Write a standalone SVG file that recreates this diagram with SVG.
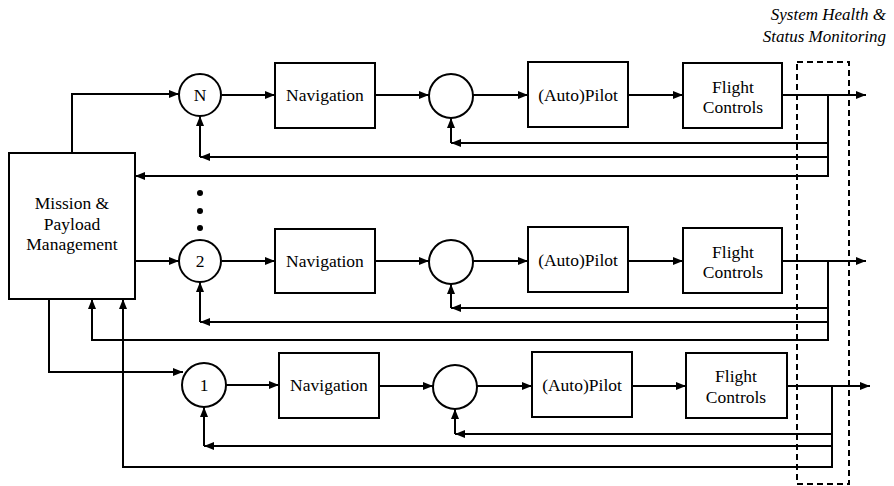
<svg xmlns="http://www.w3.org/2000/svg" width="894" height="486" viewBox="0 0 894 486">
<defs>
<marker id="ah" viewBox="0 0 10 8" refX="10" refY="4" markerWidth="10" markerHeight="8" markerUnits="userSpaceOnUse" orient="auto"><path d="M0,0 L10,4 L0,8 z" fill="#000"/></marker>
</defs>
<style>
.box{fill:#fff;stroke:#000;stroke-width:2}
.circ{fill:#fff;stroke:#000;stroke-width:2}
.t{font-family:"Liberation Serif","Times New Roman",serif;font-size:17.5px;fill:#000;text-anchor:middle}
.ti{font-family:"Liberation Serif","Times New Roman",serif;font-size:17px;font-style:italic;fill:#000;text-anchor:end}
.ln{fill:none;stroke:#000;stroke-width:2}
.a{marker-end:url(#ah)}
.dash{fill:none;stroke:#000;stroke-width:2;stroke-dasharray:6,4}
</style>
<rect width="894" height="486" fill="#fff"/>
<g id="connectors">
<polyline class="ln a" points="72,153 72,94 179,94"/>
<line class="ln a" x1="135" y1="261" x2="179" y2="261"/>
<polyline class="ln a" points="49,299 49,372 183,372"/>
<line class="ln a" x1="222" y1="95" x2="275" y2="95"/>
<line class="ln a" x1="375" y1="95" x2="429" y2="95"/>
<line class="ln a" x1="473" y1="95" x2="528" y2="95"/>
<line class="ln a" x1="628" y1="95" x2="683" y2="95"/>
<line class="ln a" x1="782" y1="95" x2="866" y2="95"/>
<line class="ln" x1="828" y1="94" x2="828" y2="177"/>
<line class="ln a" x1="829" y1="143" x2="451" y2="143"/>
<line class="ln a" x1="451" y1="143" x2="451" y2="118"/>
<line class="ln a" x1="829" y1="157" x2="200" y2="157"/>
<line class="ln a" x1="200" y1="157" x2="200" y2="116"/>
<polyline class="ln a" points="828,176 135,176"/>
<line class="ln a" x1="222" y1="261" x2="275" y2="261"/>
<line class="ln a" x1="375" y1="261" x2="429" y2="261"/>
<line class="ln a" x1="473" y1="261" x2="528" y2="261"/>
<line class="ln a" x1="628" y1="261" x2="683" y2="261"/>
<line class="ln a" x1="782" y1="261" x2="866" y2="261"/>
<line class="ln" x1="828" y1="260" x2="828" y2="341"/>
<line class="ln a" x1="829" y1="308" x2="451" y2="308"/>
<line class="ln a" x1="451" y1="308" x2="451" y2="284"/>
<line class="ln a" x1="829" y1="322" x2="200" y2="322"/>
<line class="ln a" x1="200" y1="322" x2="200" y2="282"/>
<polyline class="ln a" points="828,340 92,340 92,299"/>
<line class="ln a" x1="226" y1="385" x2="279" y2="385"/>
<line class="ln a" x1="379" y1="386" x2="433" y2="386"/>
<line class="ln a" x1="477" y1="386" x2="532" y2="386"/>
<line class="ln a" x1="632" y1="386" x2="686" y2="386"/>
<line class="ln a" x1="787" y1="386" x2="870" y2="386"/>
<line class="ln" x1="832" y1="385" x2="832" y2="468"/>
<line class="ln a" x1="833" y1="434" x2="455" y2="434"/>
<line class="ln a" x1="455" y1="434" x2="455" y2="409"/>
<line class="ln a" x1="833" y1="446" x2="204" y2="446"/>
<line class="ln a" x1="204" y1="446" x2="204" y2="407"/>
<polyline class="ln a" points="832,467 123,467 123,299"/>
</g>
<g id="mission">
<rect class="box" x="9" y="153" width="126" height="146"/>
<text class="t" x="72" y="209">Mission &amp;</text>
<text class="t" x="72" y="230">Payload</text>
<text class="t" x="72" y="250">Management</text>
</g>
<g id="dots">
<circle cx="200" cy="193" r="3"/>
<circle cx="200" cy="211" r="3"/>
<circle cx="200" cy="228" r="3"/>
</g>
<g id="sumN"><circle class="circ" cx="200" cy="95" r="21"/><text class="t" x="200" y="101">N</text></g>
<g id="navN"><rect class="box" x="275" y="63" width="100" height="65"/><text class="t" x="325" y="101">Navigation</text></g>
<g id="sumPN"><circle class="circ" cx="451" cy="96" r="22"/></g>
<g id="pilotN"><rect class="box" x="528" y="62" width="100" height="65"/><text class="t" x="578" y="101">(Auto)Pilot</text></g>
<g id="fcN"><rect class="box" x="683" y="63" width="99" height="65"/><text class="t" x="733" y="93">Flight</text><text class="t" x="733" y="113">Controls</text></g>
<g id="sum2"><circle class="circ" cx="200" cy="261" r="21"/><text class="t" x="200" y="267">2</text></g>
<g id="nav2"><rect class="box" x="275" y="229" width="100" height="64"/><text class="t" x="325" y="267">Navigation</text></g>
<g id="sumP2"><circle class="circ" cx="451" cy="262" r="22"/></g>
<g id="pilot2"><rect class="box" x="528" y="227" width="100" height="65"/><text class="t" x="578" y="266">(Auto)Pilot</text></g>
<g id="fc2"><rect class="box" x="683" y="228" width="99" height="65"/><text class="t" x="733" y="258">Flight</text><text class="t" x="733" y="278">Controls</text></g>
<g id="sum1"><circle class="circ" cx="204" cy="385" r="22"/><text class="t" x="204" y="391">1</text></g>
<g id="nav1"><rect class="box" x="279" y="353" width="100" height="65"/><text class="t" x="329" y="391">Navigation</text></g>
<g id="sumP1"><circle class="circ" cx="455" cy="387" r="22"/></g>
<g id="pilot1"><rect class="box" x="532" y="352" width="100" height="65"/><text class="t" x="582" y="391">(Auto)Pilot</text></g>
<g id="fc1"><rect class="box" x="686" y="353" width="101" height="65"/><text class="t" x="736" y="382">Flight</text><text class="t" x="736" y="403">Controls</text></g>
<g id="monitor">
<rect class="dash" x="797" y="62" width="52" height="422"/>
<text class="ti" x="886" y="20">System Health &amp;</text>
<text class="ti" x="886" y="42">Status Monitoring</text>
</g>
</svg>
